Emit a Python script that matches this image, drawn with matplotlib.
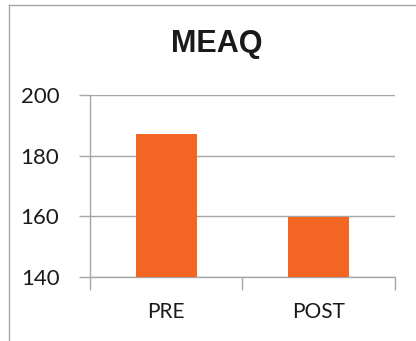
import matplotlib.pyplot as plt
from matplotlib.lines import Line2D

# Values
categories = ["PRE", "POST"]
values = [187.1, 159.8]
y_ticks = [140, 160, 180, 200]

bar_color = "#F26522"
grid_color = "#A6A6A6"

fig = plt.figure(figsize=(4.16, 3.41), dpi=100)
ax = fig.add_axes([0.2163, 0.1877, 0.7332, 0.5337])

x = list(range(len(categories)))
ax.bar(x, values, width=0.4, color=bar_color, zorder=3)

ax.set_xlim(-0.5, len(categories) - 0.5)
ax.set_ylim(140, 200)
ax.set_yticks(y_ticks)
ax.set_yticklabels([str(t) for t in y_ticks], fontsize=16, family="Lato", color="#1a1a1a")

# category labels in the middle, ticks on the boundaries
ax.set_xticks(x)
ax.set_xticklabels(categories, fontsize=15, family="Lato", color="#1a1a1a")
ax.tick_params(axis="x", which="major", length=0, pad=18)
ax.set_xticks([-0.5, 0.5, 1.5], minor=True)
ax.tick_params(axis="x", which="minor", length=9, color=grid_color, width=1)
ax.tick_params(axis="y", length=8, color=grid_color, width=1, pad=14)

ax.yaxis.grid(True, color=grid_color, linewidth=1, zorder=0)
for side in ["top", "right"]:
    ax.spines[side].set_visible(False)
for side in ["left", "bottom"]:
    ax.spines[side].set_color(grid_color)
    ax.spines[side].set_linewidth(1)

fig.text(0.52, 0.87, "MEAQ", ha="center", va="center", fontsize=22,
         fontweight="bold", family="Liberation Sans", color="#1a1a1a")

# outer chart frame (top and left edges visible)
fig.add_artist(Line2D([9 / 416, 9 / 416], [0, 1 - 5 / 341], color=grid_color, lw=1))
fig.add_artist(Line2D([9 / 416, 1], [1 - 5 / 341, 1 - 5 / 341], color=grid_color, lw=1))

fig.savefig("out.png", dpi=100)
